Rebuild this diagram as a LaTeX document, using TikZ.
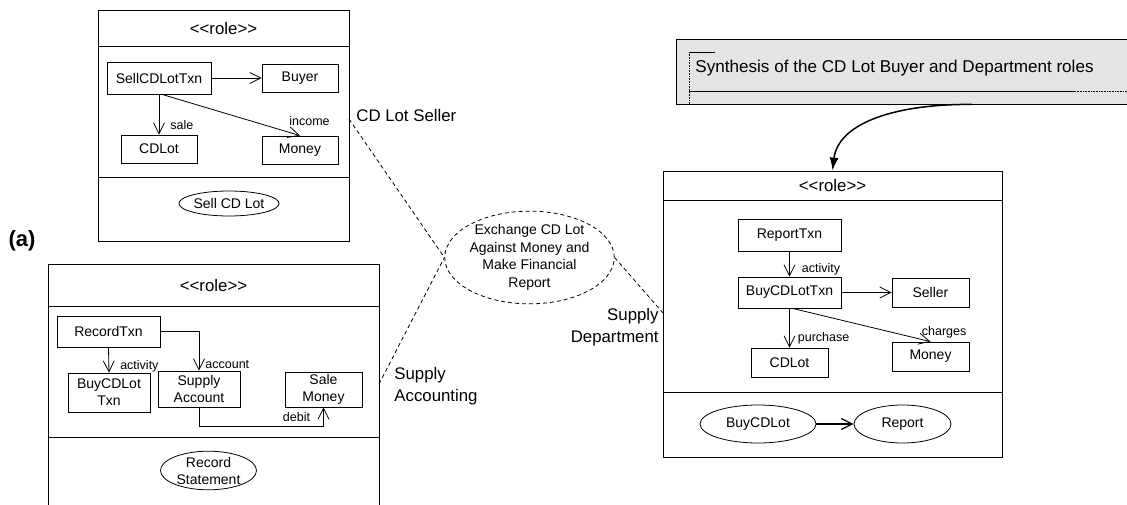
\documentclass[tikz,border=0pt]{standalone}
\usepackage{fontspec}
\setmainfont{Liberation Sans}
\usetikzlibrary{arrows.meta, positioning, shapes.geometric}

\begin{document}
\begin{tikzpicture}[x=1pt, y=-1pt, line width=0.8pt,
    cls/.style={draw, inner sep=0pt, align=center, font=\fontsize{14}{17}\selectfont},
    usecase/.style={draw, ellipse, inner sep=0pt, align=center, font=\fontsize{14}{17}\selectfont},
    lbl/.style={inner sep=1pt, font=\fontsize{12.5}{14}\selectfont},
    rolename/.style={inner sep=0pt, font=\fontsize{16.8}{21.5}\selectfont},
    frame/.style={draw, inner sep=0pt},
    assoc/.style={-{Straight Barb[length=11pt, width=11pt]}},
    link/.style={dash pattern=on 4pt off 3pt}]

    \useasboundingbox (0,0) rectangle (1127,505);

    % Role frames
    \node[frame, minimum width=251, minimum height=231] (sellframe) at (223.5,125.5) {};
    \node[frame, minimum width=331, minimum height=256] (acctframe) at (213.5,392) {};
    \node[frame, minimum width=339, minimum height=286] (deptframe) at (832.5,314) {};
    \draw (98,46) -- (349,46);
    \draw (98,177) -- (349,177);
    \draw (48,306) -- (379,306);
    \draw (48,437) -- (379,437);
    \draw (663,200) -- (1002,200);
    \draw (663,392) -- (1002,392);
    \node[rolename] (sellstereo) at (223.5,28) {<{}<role>{}>};
    \node[rolename] (acctstereo) at (213.5,285) {<{}<role>{}>};
    \node[rolename] (deptstereo) at (832.5,185.5) {<{}<role>{}>};

    % Seller role
    \node[cls, minimum width=104, minimum height=32] (selltxn) at (159,78) {SellCDLotTxn};
    \node[cls, minimum width=76, minimum height=28] (buyer) at (300,78) {Buyer};
    \node[cls, minimum width=76, minimum height=28] (selllot) at (159,149) {CDLot};
    \node[cls, minimum width=76, minimum height=28] (sellmoney) at (300,150) {Money};
    \node[usecase, minimum width=96, minimum height=25] (sellcase) at (229,203.5) {Sell CD Lot};
    \draw[assoc] (selltxn) -- (buyer);
    \draw[assoc] (selltxn.south) -- (selllot.north)
        node[lbl, pos=0.75, right=10pt] {sale};
    \draw[assoc] ([xshift=3pt]selltxn.south) -- (sellmoney.north)
        node[lbl, at end, anchor=south west, xshift=-12pt, yshift=9pt] {income};

    % Accounting role
    \node[cls, minimum width=103, minimum height=31] (recordtxn) at (108.5,331.5) {RecordTxn};
    \node[cls, minimum width=82, minimum height=39] (accttxn) at (109,392.5) {BuyCDLot\\Txn};
    \node[cls, minimum width=82, minimum height=36] (supplyacct) at (199,389) {Supply\\Account};
    \node[cls, minimum width=77, minimum height=35] (salemoney) at (323.5,389.5) {Sale\\Money};
    \node[usecase, minimum width=96, minimum height=37] (recordcase) at (208.5,470.5) {Record\\Statement};
    \draw[assoc] (recordtxn.south) -- (accttxn.north)
        node[lbl, pos=0.75, right=10pt] {activity};
    \draw[assoc] (recordtxn.east) -| (supplyacct.north)
        node[lbl, pos=0.92, anchor=west, xshift=5pt] {account};
    \draw[assoc] (supplyacct.south) -- ++(0,19) -| (salemoney.south)
        node[lbl, pos=0.75, left=12pt] {debit};

    % Department role
    \node[cls, minimum width=103, minimum height=32] (reporttxn) at (789.5,235) {ReportTxn};
    \node[cls, minimum width=103, minimum height=31] (buytxn) at (789.5,292.5) {BuyCDLotTxn};
    \node[cls, minimum width=77, minimum height=29] (seller) at (930.5,292.5) {Seller};
    \node[cls, minimum width=77, minimum height=29] (buylot) at (789.5,362.5) {CDLot};
    \node[cls, minimum width=77, minimum height=29] (buymoney) at (930.5,356.5) {Money};
    \node[usecase, minimum width=116, minimum height=38] (buycase) at (758,424) {BuyCDLot};
    \node[usecase, minimum width=97, minimum height=38] (reportcase) at (902.5,424) {Report};
    \draw[assoc] (reporttxn) -- (buytxn)
        node[lbl, pos=0.7, right=11pt] {activity};
    \draw[assoc] (buytxn) -- (seller);
    \draw[assoc] (buytxn.south) -- (buylot.north)
        node[lbl, pos=0.75, right=7pt] {purchase};
    \draw[assoc] ([xshift=3pt]buytxn.south) -- (buymoney.north)
        node[lbl, at end, anchor=south west, xshift=-10pt, yshift=2pt] {charges};
    \draw[assoc, line width=1.2pt] (buycase) -- (reportcase);

    % Collaboration
    \node[usecase, link, minimum width=167, minimum height=91, font=\fontsize{14}{17.5}\selectfont]
        (exchange) at (529.5,257.5) {Exchange CD Lot\\Against Money and\\Make Financial\\Report};
    \coordinate (sellport) at (349,119);
    \coordinate (acctport) at (379,384);
    \coordinate (deptport) at (663,313);
    \draw[link] (sellport) -- (exchange.west);
    \draw[link] (acctport) -- (exchange.west);
    \draw[link] (exchange.east) -- (deptport);
    \node[rolename, anchor=west] (sellrole) at (356,115) {CD Lot Seller};
    \node[rolename, anchor=west, align=left] (acctrole) at (394,386) {Supply\\Accounting};
    \node[rolename, anchor=east, align=right] (deptrole) at (659,327) {Supply\\Department};
    \node[font=\fontsize{22}{26}\selectfont\bfseries] (caption) at (22,241) {(a)};

    % Synthesis note
    \node[frame, fill=black!10, minimum width=460, minimum height=65] (synth) at (906,71.5) {};
    \draw (689,52) -- (715,52);
    \draw[densely dotted, line width=0.6pt] (689,52) -- (689,104);
    \draw (689,91) -- (1075,91);
    \draw[densely dotted, line width=0.6pt] (1075,91) -- (1127,91);
    \node[inner sep=0pt, anchor=west, font=\fontsize{17.1}{20}\selectfont] (synthtext) at (695,68)
        {Synthesis of the CD Lot Buyer and Department roles};
    \draw[-{Latex[length=13pt, width=9pt]}, line width=1.5pt]
        ([xshift=66pt]synth.south) .. controls (890,104) and (838,125) .. (deptframe.north);
\end{tikzpicture}
\end{document}
